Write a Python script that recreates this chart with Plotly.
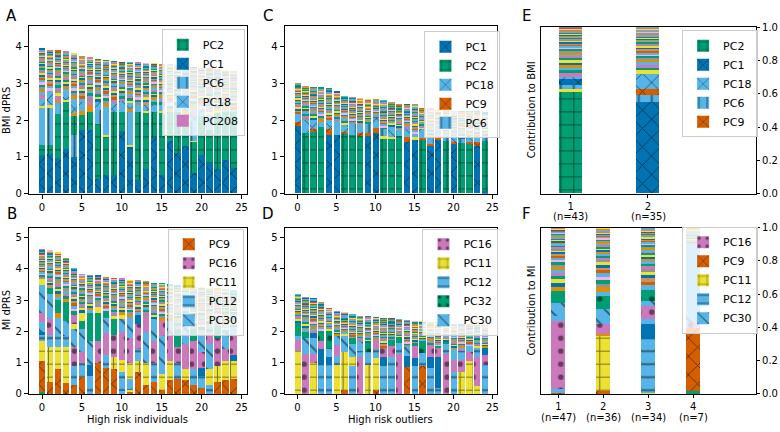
import plotly.graph_objects as go

W, H = 780, 432

# ---------------- data ----------------
X25 = list(range(25))

A_TOTAL = [3.93, 3.90, 3.88, 3.86, 3.80, 3.72, 3.69, 3.64, 3.62, 3.59, 3.57, 3.56, 3.55,
           3.54, 3.53, 3.52, 3.50, 3.48, 3.45, 3.43, 3.41, 3.39, 3.37, 3.35, 3.33]
A_SEGS = [
    [("PC1", 1.03), ("PC2", 0.28), ("PC6", 1.0), ("y", 0.06), ("PC18", 0.2)],
    [("PC1", 1.07), ("PC2", 0.25), ("PC6", 1.0), ("y", 0.08), ("PC18", 0.38)],
    [("PC1", 0.96), ("PC2", 1.2), ("PC6", 0.3), ("o", 0.06), ("PC208", 0.12)],
    [("PC1", 1.2), ("PC2", 1.3), ("y", 0.05), ("PC18", 0.3)],
    [("PC1", 1.0), ("PC6", 0.6), ("PC2", 0.5), ("o", 0.08), ("PC18", 0.3)],
    [("PC1", 1.72), ("PC2", 0.4), ("o", 0.12), ("PC18", 0.25)],
    [("PC1", 1.72), ("PC2", 0.5), ("o", 0.18), ("PC208", 0.1)],
    [("PC1", 0.38), ("PC2", 1.5), ("PC6", 0.4), ("PC18", 0.2)],
    [("PC1", 0.5), ("PC2", 1.05), ("y", 0.05), ("PC6", 0.6), ("PC18", 0.15)],
    [("PC1", 0.5), ("PC2", 1.7), ("PC18", 0.25), ("PC208", 0.1)],
    [("PC1", 1.7), ("PC2", 0.5), ("PC18", 0.3)],
    [("PC1", 1.27), ("y", 0.05), ("PC6", 0.9), ("o", 0.08), ("PC18", 0.15)],
    [("PC1", 0.35), ("PC2", 1.85), ("PC18", 0.2)],
    [("PC1", 0.65), ("PC2", 1.55), ("y", 0.05), ("PC18", 0.15)],
    [("PC1", 1.5), ("PC2", 0.7), ("PC18", 0.2)],
    [("PC1", 0.5), ("PC2", 1.7), ("y", 0.05), ("PC18", 0.15)],
    [("PC1", 1.42), ("PC2", 0.8), ("o", 0.08)],
    [("PC1", 1.1), ("PC2", 1.1), ("PC18", 0.2)],
    [("PC1", 1.3), ("PC2", 0.85), ("o", 0.08), ("PC18", 0.15)],
    [("PC1", 0.55), ("PC2", 0.85), ("y", 0.03), ("PC6", 0.5), ("PC18", 0.2)],
    [("PC1", 1.05), ("PC2", 1.05), ("PC18", 0.2)],
    [("PC1", 0.83), ("PC2", 0.9), ("PC6", 0.4)],
    [("PC1", 0.65), ("PC2", 1.55), ("y", 0.05)],
    [("PC1", 0.9), ("PC2", 1.3)],
    [("PC1", 0.7), ("PC2", 1.5)],
]
A_LEGEND = ["PC2", "PC1", "PC6", "PC18", "PC208"]

B_TOTAL = [4.64, 4.59, 4.53, 4.35, 4.04, 3.83, 3.81, 3.79, 3.74, 3.71, 3.69, 3.65, 3.63,
           3.60, 3.55, 3.54, 3.50, 3.47, 3.45, 3.43, 3.41, 3.39, 3.37, 3.35, 3.33]
B_SEGS = [
    [("g", .08), ("PC9", .97), ("PC11", .65), ("PC12", .2), ("b", .1), ("PC30", .3), ("PC16", .3), ("PC30", .9), ("y", .2)],
    [("PC9", .4), ("PC11", 1.1), ("PC12", .4), ("PC16", .5), ("PC30", .8), ("g", .2)],
    [("PC9", .8), ("PC11", .7), ("PC12", .35), ("PC30", .6), ("o", .15), ("g", .3)],
    [("PC9", .35), ("PC11", 1.15), ("PC12", .35), ("PC30", .5), ("g", .6), ("o", .1)],
    [("PC9", .3), ("PC12", .6), ("PC16", .6), ("PC30", .6), ("y", .15), ("PC16", .3)],
    [("PC9", .55), ("PC12", .45), ("PC16", .35), ("PC30", .75), ("g", .25), ("y", .25)],
    [("PC12", .3), ("lb", .3), ("b", .35), ("PC30", .75), ("g", .9)],
    [("PC9", 1.0), ("PC16", .7), ("g", .9), ("y", .2)],
    [("PC9", .85), ("PC12", .4), ("PC16", .7), ("PC30", .5), ("g", .2)],
    [("PC9", .8), ("PC11", .4), ("PC16", .7), ("g", .5)],
    [("lb", .1), ("PC12", .6), ("PC11", .4), ("PC16", .9), ("PC30", .4), ("y", .15)],
    [("PC9", .1), ("y", .05), ("PC12", .35), ("PC11", .5), ("PC16", .8), ("PC30", .6)],
    [("PC9", .7), ("PC11", .35), ("PC12", .4), ("PC16", .8), ("b", .3)],
    [("PC9", .3), ("PC11", .7), ("PC30", 1.0), ("PC16", .5)],
    [("PC9", .4), ("PC12", .6), ("PC16", .7), ("PC30", .7)],
    [("PC9", .15), ("PC11", .5), ("PC30", 1.2), ("PC16", .5)],
    [("PC9", .45), ("PC11", .6), ("PC16", .8), ("PC30", .5)],
    [("PC9", .5), ("PC12", .5), ("PC16", .5), ("g", .6)],
    [("PC9", .45), ("PC11", .35), ("PC16", .8), ("PC30", .6)],
    [("PC9", .3), ("PC12", .5), ("PC16", .9), ("g", .4)],
    [("PC9", .2), ("PC12", .4), ("b", .25), ("PC16", .5), ("PC30", .6)],
    [("PC12", .3), ("PC11", .5), ("PC30", .8), ("PC16", .4)],
    [("PC9", .4), ("PC11", .5), ("PC16", .9), ("g", .3)],
    [("PC9", .45), ("PC11", .6), ("PC16", .4), ("PC30", .5)],
    [("PC9", .5), ("PC11", .55), ("b", .2), ("PC16", .6), ("lb", .3)],
]
B_LEGEND = ["PC9", "PC16", "PC11", "PC12", "PC30"]

C_TOTAL = [2.98, 2.90, 2.88, 2.87, 2.85, 2.76, 2.63, 2.60, 2.59, 2.56, 2.56, 2.53, 2.48,
           2.43, 2.41, 2.41, 2.32, 2.30, 2.28, 2.26, 2.23, 2.23, 2.23, 2.22, 2.19]
C_SEGS = [
    [("PC1", 1.82), ("PC9", .13), ("PC18", .15)],
    [("PC2", 1.65), ("PC18", .35)],
    [("PC2", 1.66), ("PC9", .09), ("PC18", .25)],
    [("PC2", 1.8), ("PC6", .15)],
    [("PC1", 1.6), ("PC9", .15), ("PC18", .25)],
    [("PC1", 1.58), ("PC6", .4)],
    [("PC2", 1.62), ("PC9", .05), ("PC18", .2)],
    [("PC2", 1.6), ("PC6", .3)],
    [("PC2", 1.58), ("PC9", .05), ("PC18", .25)],
    [("PC1", 1.55), ("PC9", .1), ("PC6", .25)],
    [("PC1", 1.65), ("PC9", .12), ("PC18", .3)],
    [("PC2", 1.5), ("y", .05), ("PC6", .2)],
    [("PC2", 1.48), ("y", .05), ("PC18", .3)],
    [("PC2", 1.55), ("PC6", .15)],
    [("PC1", 1.4), ("PC9", .12), ("PC18", .25)],
    [("PC1", 1.45), ("y", .08), ("PC6", .1)],
    [("PC2", 1.45), ("PC9", .05), ("PC18", .25)],
    [("PC1", 1.3), ("PC9", .05), ("PC6", .2)],
    [("PC1", 1.45), ("PC9", .12), ("PC18", .15)],
    [("PC2", 1.42), ("PC6", .15)],
    [("PC1", 1.35), ("PC9", .05), ("PC18", .2)],
    [("PC2", 1.38), ("PC6", .1)],
    [("PC2", 1.35), ("PC9", .05), ("PC18", .2)],
    [("PC1", 1.3), ("PC9", .1), ("PC18", .15)],
    [("b", .05), ("PC2", 1.38), ("PC6", .1)],
]
C_LEGEND = ["PC1", "PC2", "PC18", "PC9", "PC6"]

D_TOTAL = [3.19, 3.10, 3.07, 2.93, 2.74, 2.65, 2.63, 2.55, 2.50, 2.48, 2.45, 2.42, 2.42,
           2.38, 2.35, 2.32, 2.32, 2.31, 2.29, 2.27, 2.23, 2.22, 2.22, 2.21, 2.20]
D_SEGS = [
    [("PC11", 1.37), ("PC16", .38), ("lb", .1), ("g", .15), ("PC32", .3)],
    [("PC16", 1.3), ("PC30", .5), ("g", .2)],
    [("PC11", 1.0), ("PC16", .3), ("PC30", .5), ("b", .15)],
    [("PC12", .95), ("b", .5), ("PC16", .25), ("PC32", .35)],
    [("PC12", .95), ("b", .25), ("PC30", .25), ("PC32", .6)],
    [("PC11", .93), ("PC12", .3), ("PC16", .35), ("PC30", .3)],
    [("PC9", .15), ("PC11", 1.2), ("PC30", .5), ("y", .1)],
    [("PC12", .9), ("PC11", .3), ("PC30", .4), ("g", .2)],
    [("PC16", 1.2), ("PC12", .2), ("PC30", .3)],
    [("PC11", .95), ("PC12", .4), ("PC32", .3)],
    [("PC9", .15), ("PC11", 1.0), ("PC12", .3), ("PC16", .3)],
    [("PC12", .9), ("b", .3), ("PC16", .3)],
    [("PC12", 1.2), ("PC16", .35), ("g", .2)],
    [("PC16", 1.3), ("PC12", .35), ("g", .2)],
    [("PC9", .87), ("b", .35), ("PC30", .3)],
    [("PC12", .9), ("b", .25), ("PC16", .4), ("g", .1)],
    [("PC9", .92), ("PC12", .4), ("PC32", .35)],
    [("PC12", .85), ("b", .35), ("PC16", .4)],
    [("PC12", .2), ("b", 1.0), ("PC16", .3)],
    [("PC16", 1.3), ("PC12", .3), ("g", .1)],
    [("PC12", .7), ("PC16", .4), ("lb", .3)],
    [("PC11", .7), ("PC16", .4), ("PC12", .3)],
    [("PC11", 1.05), ("PC16", .3), ("lb", .2)],
    [("PC11", .25), ("PC16", .95), ("PC12", .3)],
    [("PC12", .95), ("PC16", .3), ("b", .25)],
]
D_LEGEND = ["PC16", "PC11", "PC12", "PC32", "PC30"]

E_X = [1, 2]
E_TICKS = ["1", "2"]
E_N = ["(n=43)", "(n=35)"]
E_TOTAL = [1.0, 1.0]
E_SEGS = [
    [("PC2", .615), ("y", .01), ("PC6", .025), ("PC1", .035), ("PC18", .015)],
    [("PC1", .55), ("PC6", .04), ("PC9", .04), ("PC18", .09)],
]
E_LEGEND = ["PC2", "PC1", "PC18", "PC6", "PC9"]

F_X = [1, 2, 3, 4]
F_TICKS = ["1", "2", "3", "4"]
F_N = ["(n=47)", "(n=36)", "(n=34)", "(n=7)"]
F_TOTAL = [1.0, 1.0, 1.0, 1.0]
F_SEGS = [
    [("PC9", .01), ("lb", .02), ("PC16", .41), ("PC12", .03), ("PC30", .08), ("g", .07)],
    [("PC9", .02), ("PC11", .33), ("o", .015), ("PC16", .055), ("PC30", .09), ("PC32", .08)],
    [("y", .01), ("PC12", .32), ("b", .09), ("lb", .03), ("PC16", .08), ("PC30", .03), ("PC32", .07)],
    [("g", .02), ("PC9", .38), ("PC16", .03), ("PC30", .07), ("lb", .4)],
]
F_LEGEND = ["PC16", "PC9", "PC11", "PC12", "PC30"]

# many small remaining contributions (relative sizes, largest first)
STRIPE_W = [0.070, 0.062, 0.058, 0.055, 0.050, 0.048, 0.045, 0.042, 0.040, 0.038, 0.036, 0.034,
            0.032, 0.030, 0.029, 0.028, 0.026, 0.025, 0.024, 0.023, 0.022, 0.021, 0.020, 0.019,
            0.018, 0.017, 0.016, 0.015, 0.014, 0.013, 0.012, 0.011, 0.010, 0.009, 0.008, 0.007]
STRIPE_COLORS = ["#0173B2", "#ECE133", "#029E73", "#CC78BC", "#56B4E9", "#DE8F05", "#949494",
                 "#029E73", "#FBAFE4", "#56B4E9", "#D55E00", "#CA9161", "#0173B2", "#ECE133",
                 "#949494", "#CC78BC", "#029E73", "#56B4E9", "#DE8F05"]

# ---------------- styles ----------------
COLOR = {"PC1": "#0173B2", "PC2": "#029E73", "PC6": "#56B4E9", "PC18": "#56B4E9",
         "PC208": "#CC78BC", "PC9": "#D55E00", "PC16": "#CC78BC", "PC11": "#ECE133",
         "PC12": "#56B4E9", "PC30": "#56B4E9", "PC32": "#029E73",
         "g": "#029E73", "b": "#0173B2", "lb": "#56B4E9", "y": "#ECE133", "o": "#DE8F05"}
PAT = {"PC1": "x", "PC2": "+", "PC6": "|", "PC18": "x", "PC208": "", "PC9": "x",
       "PC16": ".", "PC11": "+", "PC12": "-", "PC30": "\\", "PC32": "."}
PSIZE = 13
PSOL = 0.14

fig = go.Figure()


def marker_for(key):
    return dict(color=COLOR[key], line=dict(width=0),
                pattern=dict(shape=PAT.get(key, ""), fgcolor="black", size=PSIZE,
                             solidity=PSOL, fillmode="overlay"))


def add_panel(xs, segs, totals, ax, legname, legend_pcs, width):
    xa = "x" if ax == 1 else "x%d" % ax
    ya = "y" if ax == 1 else "y%d" % ax
    nl = max(len(s) for s in segs)
    for k in range(nl):
        keys = []
        for s in segs:
            if k < len(s) and s[k][0] not in keys:
                keys.append(s[k][0])
        for key in keys:
            ys = [s[k][1] if (k < len(s) and s[k][0] == key) else 0 for s in segs]
            fig.add_trace(go.Bar(x=xs, y=ys, width=width, xaxis=xa, yaxis=ya,
                                 marker=marker_for(key), showlegend=False, hoverinfo="skip"))
    wsum = sum(STRIPE_W)
    nc = len(STRIPE_COLORS)
    for j, w in enumerate(STRIPE_W):
        ys, cols = [], []
        for i, s in enumerate(segs):
            rest = totals[i] - sum(v for _, v in s)
            ys.append(max(rest, 0) * w / wsum)
            cols.append(STRIPE_COLORS[(j + 5 * i + 3 * ax) % nc])
        fig.add_trace(go.Bar(x=xs, y=ys, width=width, xaxis=xa, yaxis=ya,
                             marker=dict(color=cols, line=dict(width=0)),
                             showlegend=False, hoverinfo="skip"))
    for pc in legend_pcs:
        fig.add_trace(go.Bar(x=[None], y=[None], name=pc, xaxis=xa, yaxis=ya, legend=legname,
                             marker=marker_for(pc), showlegend=True, hoverinfo="skip"))


add_panel(X25, A_SEGS, A_TOTAL, 1, "legend", A_LEGEND, 0.82)
add_panel(X25, B_SEGS, B_TOTAL, 2, "legend2", B_LEGEND, 0.82)
add_panel(X25, C_SEGS, C_TOTAL, 3, "legend3", C_LEGEND, 0.82)
add_panel(X25, D_SEGS, D_TOTAL, 4, "legend4", D_LEGEND, 0.82)
add_panel(E_X, E_SEGS, E_TOTAL, 5, "legend5", E_LEGEND, 0.3)
add_panel(F_X, F_SEGS, F_TOTAL, 6, "legend6", F_LEGEND, 0.3)

FONT = "DejaVu Sans"


def dx(a, b):
    return [a / W, b / W]


def dy(top, bottom):
    return [1 - bottom / H, 1 - top / H]


axis_common = dict(showline=True, linecolor="black", linewidth=1, mirror=True, ticks="outside",
                   ticklen=4, tickwidth=1, tickcolor="black", showgrid=False, zeroline=False,
                   tickfont=dict(family=FONT, size=10, color="black"), fixedrange=True)

layout = dict(width=W, height=H, margin=dict(l=0, r=0, t=0, b=0), barmode="stack",
              bargap=0, plot_bgcolor="white", paper_bgcolor="white",
              font=dict(family=FONT, size=10, color="black"))

bar_x = dict(range=[-1.64, 25.64], tickvals=[0, 5, 10, 15, 20, 25])
layout["xaxis"] = dict(axis_common, domain=dx(29, 247), anchor="y", **bar_x)
layout["yaxis"] = dict(axis_common, domain=dy(21, 193), anchor="x", range=[0, 4.556], tickvals=[0, 1, 2, 3, 4])
layout["xaxis2"] = dict(axis_common, domain=dx(29, 247), anchor="y2", **bar_x)
layout["yaxis2"] = dict(axis_common, domain=dy(228, 399), anchor="x2", range=[0, 5.32], tickvals=[0, 1, 2, 3, 4, 5])
layout["xaxis3"] = dict(axis_common, domain=dx(285, 498), anchor="y3", **bar_x)
layout["yaxis3"] = dict(axis_common, domain=dy(21, 193), anchor="x3", range=[0, 4.556], tickvals=[0, 1, 2, 3, 4])
layout["xaxis4"] = dict(axis_common, domain=dx(285, 498), anchor="y4", **bar_x)
layout["yaxis4"] = dict(axis_common, domain=dy(228, 399), anchor="x4", range=[0, 5.32], tickvals=[0, 1, 2, 3, 4, 5])
frac_ticks = dict(range=[0, 1], tickvals=[0, 0.2, 0.4, 0.6, 0.8, 1.0],
                  ticktext=["0.0", "0.2", "0.4", "0.6", "0.8", "1.0"], side="right", ticklen=3)
layout["xaxis5"] = dict(axis_common, domain=dx(542, 757), anchor="y5", range=[0.62, 3.4],
                        tickvals=E_X, ticktext=E_TICKS, ticklen=3)
layout["yaxis5"] = dict(axis_common, domain=dy(22, 193), anchor="x5", **frac_ticks)
layout["xaxis6"] = dict(axis_common, domain=dx(542, 757), anchor="y6", range=[0.62, 5.4],
                        tickvals=F_X, ticktext=F_TICKS, ticklen=3)
layout["yaxis6"] = dict(axis_common, domain=dy(228, 399), anchor="x6", **frac_ticks)

leg_common = dict(xanchor="left", yanchor="top", bgcolor="rgba(255,255,255,0.8)",
                  bordercolor="#cccccc", borderwidth=1, font=dict(family=FONT, size=11, color="black"),
                  itemwidth=30, tracegroupgap=0, traceorder="normal")
for name, (px, py) in {"legend": (162, 24), "legend2": (168, 229), "legend3": (425, 26),
                       "legend4": (423, 229), "legend5": (683, 25), "legend6": (683, 227)}.items():
    layout[name] = dict(leg_common, x=px / W, y=1 - py / H)

fig.update_layout(**layout)


def ann(text, px, py, size=10, angle=0):
    fig.add_annotation(text=text, x=px / W, y=1 - py / H, xref="paper", yref="paper",
                       showarrow=False, textangle=angle, xanchor="center", yanchor="middle",
                       font=dict(family=FONT, size=size, color="black"))


for letter, px, py in [("A", 12, 10), ("B", 12, 214), ("C", 268, 10), ("D", 268, 214),
                       ("E", 527, 10), ("F", 527, 214)]:
    ann(letter, px, py, size=15)
ann("BMI dPRS", 6, 107, angle=-90)
ann("MI dPRS", 6, 313, angle=-90)
ann("Contribution to BMI", 532, 107, angle=-90)
ann("Contribution to MI", 532, 313, angle=-90)
ann("High risk individuals", 138, 425)
ann("High risk outliers", 391, 425)

# sample-size lines under the cluster ticks
E_PX = [571.7, 649.0]
F_PX = [559.0, 604.0, 649.0, 694.0]
for t, px in zip(E_N, E_PX):
    ann(t, px, 217)
for t, px in zip(F_N, F_PX):
    ann(t, px, 423)

fig.write_html("out.html", config={"displayModeBar": False},
               post_script="document.body.style.margin='0px';document.body.style.overflow='hidden';")
